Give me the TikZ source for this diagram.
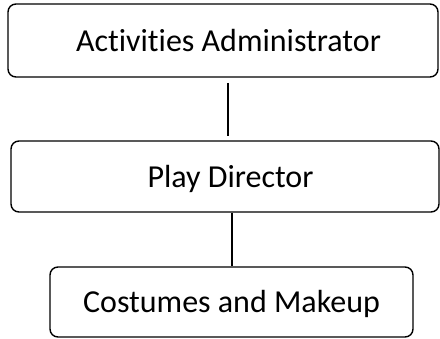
\documentclass[tikz,border=0pt]{standalone}
\usepackage{fontspec}
\setmainfont[Ligatures=NoCommon]{Carlito}
\begin{document}
\begin{tikzpicture}[x=1pt,y=-1pt,
  orgbox/.style={draw=black,line width=1.4pt,rounded corners=8pt,inner sep=0pt},
  orgtext/.style={font=\fontsize{32}{38}\selectfont,inner sep=0pt,anchor=base},
  link/.style={draw=black,line width=1.3pt}]
\useasboundingbox (0,0) rectangle (440,339);
\node[orgbox,minimum width=430pt,minimum height=73pt] (aa) at (223,40.5) {};
\node[orgbox,minimum width=428pt,minimum height=71pt] (pd) at (225,176.5) {};
\node[orgbox,minimum width=363pt,minimum height=70pt] (cm) at (231.5,302) {};
\node[orgtext] (taa) at (228.5,52) {Activities Administrator};
\node[orgtext] (tpd) at (230.5,188) {Play Director};
\node[orgtext] (tcm) at (231.5,313) {Costumes and Makeup};
\coordinate (l1a) at (228,83);
\coordinate (l1b) at (228,136);
\draw[link] (l1a) -- (l1b);
\draw[link] (pd.south -| 232,0) -- (cm.north -| 232,0);
\end{tikzpicture}
\end{document}
